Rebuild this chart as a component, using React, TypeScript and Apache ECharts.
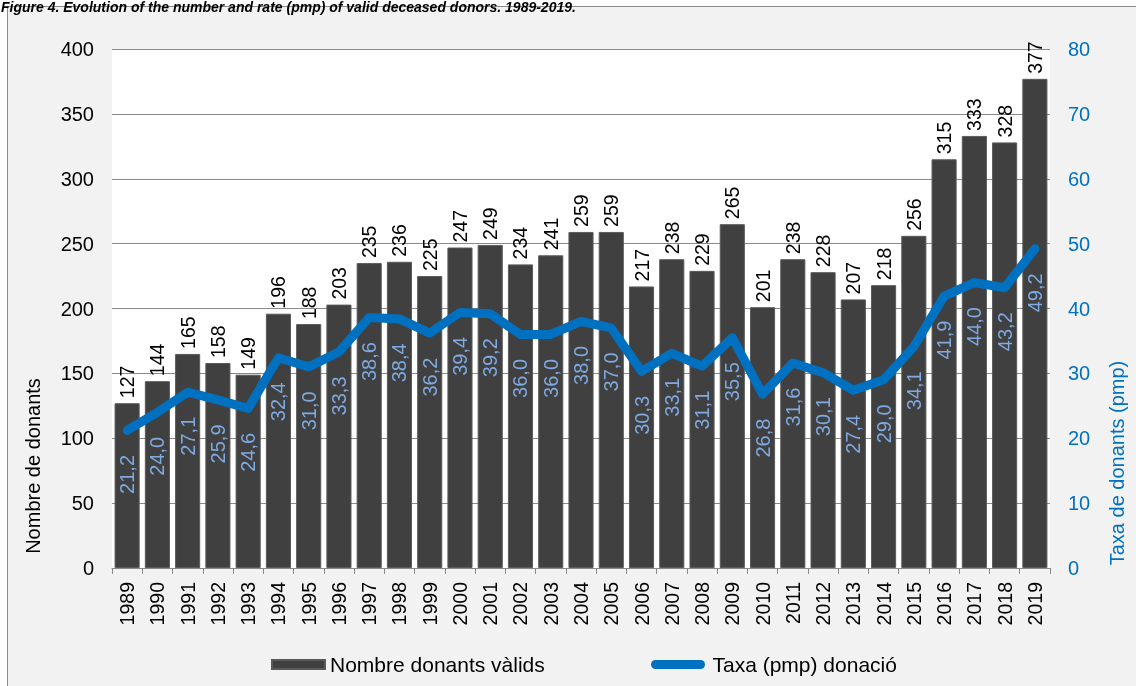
import React, { useEffect, useRef } from "react";
import * as echarts from "echarts";

const years = [
  "1989", "1990", "1991", "1992", "1993", "1994", "1995", "1996", "1997", "1998",
  "1999", "2000", "2001", "2002", "2003", "2004", "2005", "2006", "2007", "2008",
  "2009", "2010", "2011", "2012", "2013", "2014", "2015", "2016", "2017", "2018", "2019",
];
const donors = [
  127, 144, 165, 158, 149, 196, 188, 203, 235, 236,
  225, 247, 249, 234, 241, 259, 259, 217, 238, 229,
  265, 201, 238, 228, 207, 218, 256, 315, 333, 328, 377,
];
const rates = [
  21.2, 24.0, 27.1, 25.9, 24.6, 32.4, 31.0, 33.3, 38.6, 38.4,
  36.2, 39.4, 39.2, 36.0, 36.0, 38.0, 37.0, 30.3, 33.1, 31.1,
  35.5, 26.8, 31.6, 30.1, 27.4, 29.0, 34.1, 41.9, 44.0, 43.2, 49.2,
];

const barName = "Nombre donants vàlids";
const lineName = "Taxa (pmp) donació";
const titleText =
  "Figure 4. Evolution of the number and rate (pmp) of valid deceased donors. 1989-2019.";
const leftTitle = "Nombre de donants";
const rightTitle = "Taxa de donants (pmp)";

const FONT = 'Arial, "Liberation Sans", sans-serif';

export default function App() {
  const ref = useRef<HTMLDivElement>(null);
  useEffect(() => {
    document.body.style.margin = "0";
    const chart = echarts.init(ref.current!, null, { renderer: "svg" });
    chart.setOption({
      animation: false,
      textStyle: { fontFamily: FONT },
      graphic: [
        {
          type: "rect",
          z: -10,
          silent: true,
          shape: { x: 7.5, y: 6.5, width: 1300, height: 900 },
          style: { fill: "#f2f2f2", stroke: "#8a8a8a", lineWidth: 1 },
        },
        {
          type: "text",
          left: 1,
          top: 0,
          z: 10,
          style: {
            text: titleText,
            font: `italic bold 14px ${FONT}`,
            fill: "#000",
          },
        },
        {
          type: "text",
          x: 33,
          y: 466,
          rotation: Math.PI / 2,
          style: {
            text: leftTitle,
            font: `20px ${FONT}`,
            fill: "#000",
            align: "center",
            verticalAlign: "middle",
          },
        },
        {
          type: "text",
          x: 1117,
          y: 463,
          rotation: Math.PI / 2,
          style: {
            text: rightTitle,
            font: `20px ${FONT}`,
            fill: "#0070c0",
            align: "center",
            verticalAlign: "middle",
          },
        },
      ],
      grid: {
        left: 112,
        right: 86,
        top: 49,
        bottom: 118,
        show: true,
        backgroundColor: "#ffffff",
        borderWidth: 0,
      },
      legend: [
        {
          data: [{ name: barName, icon: "rect" }],
          left: 266,
          top: 649,
          itemWidth: 53,
          itemHeight: 9,
          itemGap: 0,
          textStyle: { fontSize: 21, color: "#000", fontFamily: FONT },
        },
        {
          data: [
            {
              name: lineName,
              icon: "path://M5,0 H55 A5,5 0 0 1 55,10 H5 A5,5 0 0 1 5,0 Z",
            },
          ],
          left: 646,
          top: 649,
          itemWidth: 59,
          itemHeight: 9,
          itemGap: 0,
          textStyle: { fontSize: 21, color: "#000", fontFamily: FONT },
        },
      ],
      xAxis: {
        type: "category",
        data: years,
        axisLine: { show: true, lineStyle: { color: "#898989", width: 1 } },
        axisTick: { show: true, length: 6, lineStyle: { color: "#898989" } },
        axisLabel: {
          rotate: 90,
          fontSize: 19.5,
          color: "#000",
          margin: 14,
          fontFamily: FONT,
        },
      },
      yAxis: [
        {
          type: "value",
          min: 0,
          max: 400,
          interval: 50,
          axisLine: { show: false },
          axisTick: { show: false },
          splitLine: { lineStyle: { color: "#898989", width: 1 } },
          axisLabel: { fontSize: 20, color: "#000", margin: 18, fontFamily: FONT },
        },
        {
          type: "value",
          min: 0,
          max: 80,
          interval: 10,
          position: "right",
          axisLine: { show: false },
          axisTick: { show: false },
          splitLine: { show: false },
          axisLabel: { fontSize: 20, color: "#0070c0", margin: 18, fontFamily: FONT },
        },
      ],
      series: [
        {
          name: barName,
          type: "bar",
          data: donors,
          barCategoryGap: "17%",
          itemStyle: { color: "#404040", borderColor: "#5a5a5a", borderWidth: 1 },
          label: {
            show: true,
            position: "top",
            rotate: 90,
            align: "left",
            verticalAlign: "middle",
            distance: 5,
            fontSize: 19.5,
            color: "#000",
            fontFamily: FONT,
          },
        },
        {
          name: lineName,
          type: "line",
          yAxisIndex: 1,
          data: rates,
          symbol: "circle",
          symbolSize: 1,
          showSymbol: true,
          itemStyle: { color: "#0070c0" },
          lineStyle: { color: "#0070c0", width: 9, cap: "round", join: "round" },
          label: {
            show: true,
            position: "bottom",
            rotate: 90,
            align: "right",
            verticalAlign: "middle",
            distance: 24,
            fontSize: 20,
            color: "#7ea9e1",
            fontFamily: FONT,
            formatter: (p: any) => Number(p.value).toFixed(1).replace(".", ","),
          },
          z: 3,
        },
      ],
    });
    return () => chart.dispose();
  }, []);
  return (
    <div
      ref={ref}
      style={{ position: "fixed", left: 0, top: 0, width: 1136, height: 686 }}
    />
  );
}
